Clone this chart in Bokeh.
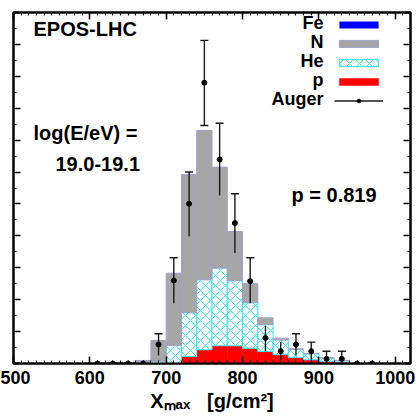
from bokeh.plotting import figure
from bokeh.models import (ColumnDataSource, Range1d, LinearAxis, Label, Legend,
                          LegendItem, Whisker, TeeHead, SingleIntervalTicker,
                          CustomJSTickFormatter)
from bokeh.core.properties import value
from bokeh.transform import stack
from bokeh.embed import file_html
from bokeh.resources import INLINE

# simulated Xmax fractions per 20 g/cm2 bin (bin centres)
bin_centre = [670, 690, 710, 730, 750, 770, 790, 810, 830, 850, 870, 890, 910, 930, 950]
frac_p = [0, 0, 0, 0.0044, 0.0086, 0.0111, 0.0111, 0.0096, 0.0075, 0.0055,
          0.0038, 0.0023, 0.0014, 0.0009, 0.0003]
frac_he = [0, 0.0014, 0.0113, 0.0274, 0.0439, 0.0487, 0.0409, 0.0285, 0.0169,
           0.0093, 0.0050, 0.0038, 0.0021, 0.0009, 0.0003]
frac_n = [0.0019, 0.0130, 0.0453, 0.0867, 0.0936, 0.0633, 0.0307, 0.0119,
          0.0042, 0.0011, 0.0004, 0.0002, 0, 0, 0]
frac_fe = [0] * 15

# Auger data points
auger_x = [610, 630, 650, 670, 690, 710, 730, 750, 770, 790, 810, 830, 850,
           870, 890, 910, 930, 950, 970]
auger_y = [0, 0, 0, 0, 0.0119, 0.0520, 0.1001, 0.1760, 0.1279, 0.0880, 0.0516,
           0.0160, 0.0077, 0.0119, 0.0077, 0.0029, 0.0029, 0, 0]
auger_hi = [0, 0, 0, 0, 0.0186, 0.0663, 0.1200, 0.2025, 0.1506, 0.1064, 0.0663,
            0.0236, 0.0134, 0.0186, 0.0134, 0.0077, 0.0077, 0, 0]
auger_lo = [0, 0, 0, 0, 0.0050, 0.0378, 0.0798, 0.1492, 0.1053, 0.0692, 0.0378,
            0.0077, 0.0023, 0.0050, 0.0023, 0.0, 0.0, 0, 0]

FONT = "Liberation Sans"
GREY = "#a6a6a6"
CYAN = "#30eaf0"

p = figure(
    width=415,
    height=417,
    x_range=Range1d(500, 1020),
    y_range=Range1d(0, 0.22),
    output_backend="svg",
    toolbar_location=None,
    min_border_left=13,
    min_border_right=5,
    min_border_top=12,
    min_border_bottom=54,
)
p.grid.visible = False
p.outline_line_color = "black"
p.outline_line_width = 2
p.background_fill_color = "white"

hist = ColumnDataSource(dict(x=bin_centre, p=frac_p, he=frac_he, n=frac_n, fe=frac_fe))

r_p = p.vbar(x="x", width=20, bottom=0, top=stack("p"), source=hist,
             fill_color="#ff0000", line_color="#ff0000", line_width=0.5)
r_he = p.vbar(x="x", width=20, bottom=stack("p"), top=stack("p", "he"), source=hist,
              fill_color="white", line_color=CYAN, line_width=1,
              hatch_pattern="diagonal_cross", hatch_color=CYAN, hatch_scale=10,
              hatch_weight=1)
r_n = p.vbar(x="x", width=20, bottom=stack("p", "he"), top=stack("p", "he", "n"),
             source=hist, fill_color=GREY, line_color="#a2a2c8", line_width=1)
r_fe = p.vbar(x="x", width=20, bottom=stack("p", "he", "n"),
              top=stack("p", "he", "n", "fe"), source=hist,
              fill_color="#0000ff", line_color="#0000ff", line_alpha=0)

auger = ColumnDataSource(dict(x=auger_x, y=auger_y, lo=auger_lo, hi=auger_hi))
r_stem = p.segment(x0="x", y0="lo", x1="x", y1="hi", source=auger,
                   line_color="#1a1a1a", line_width=1.4)
p.add_layout(Whisker(base="x", lower="lo", upper="hi", source=auger,
                     line_alpha=0,
                     lower_head=TeeHead(size=8, line_width=1.4, line_color="#1a1a1a"),
                     upper_head=TeeHead(size=8, line_width=1.4, line_color="#1a1a1a")))
r_dot = p.scatter(x="x", y="y", source=auger, size=5, color="black")

# axes: ticks on all four sides, pointing inwards
x_ticker = SingleIntervalTicker(interval=100, num_minor_ticks=10)
y_ticker = SingleIntervalTicker(interval=0.02, num_minor_ticks=2)
p.xaxis.ticker = x_ticker
p.yaxis.ticker = y_ticker
p.add_layout(LinearAxis(ticker=x_ticker), "above")
p.add_layout(LinearAxis(ticker=y_ticker), "right")

for ax in p.axis:
    ax.axis_line_width = 2
    ax.axis_line_color = "black"
    ax.major_tick_in = 7
    ax.major_tick_out = 0
    ax.minor_tick_in = 3
    ax.minor_tick_out = 0
    ax.major_tick_line_width = 1.5
    ax.minor_tick_line_width = 1.2
    ax.major_tick_line_color = "black"
    ax.minor_tick_line_color = "black"
    ax.major_label_text_font = FONT
    ax.major_label_text_font_style = "bold"
    ax.major_label_text_color = "black"

xax = p.below[0]
xax.major_label_text_font_size = "18px"
xax.major_label_standoff = 7
xax.axis_label = "X\u2098\u2090\u2093\u00a0\u00a0\u00a0[g/cm\u00b2]"
xax.axis_label_text_font = FONT
xax.axis_label_text_font_style = "bold"
xax.axis_label_text_font_size = "20px"
xax.axis_label_text_color = "black"
xax.axis_label_standoff = 3
for ax in p.left + p.right + p.above:
    ax.formatter = CustomJSTickFormatter(code="return ''")
    ax.major_label_text_font_size = "1px"
    ax.major_label_standoff = 0


def add_text(txt, sx, sy, size, align="left"):
    # sx, sy: screen px from the frame's bottom-left corner
    p.add_layout(Label(x=sx, y=sy, x_units="screen", y_units="screen", text=txt,
                       text_font=FONT, text_font_style="bold", text_font_size=size,
                       text_color="black", text_align=align, text_baseline="middle"))


add_text("EPOS-LHC", 20, 335, "20px")
add_text("log(E/eV) =", 20, 231, "20px")
add_text("19.0-19.1", 42, 200, "20px")
add_text("p = 0.819", 278, 169, "20px")

# legend: keys from the renderers, names on the left of the keys
legend_names = ["Fe", "N", "He", "p", "Auger"]
legend_rends = [[r_fe], [r_n], [r_he], [r_p], [r_stem, r_dot]]
legend = Legend(
    items=[LegendItem(label=value(""), renderers=r) for r in legend_rends],
    location=(321, 258),
    glyph_width=49,
    glyph_height=9,
    spacing=10,
    padding=0,
    margin=0,
    label_width=0,
    label_height=0,
    label_standoff=0,
    label_text_font_size="1px",
    background_fill_alpha=0,
    border_line_alpha=0,
)
p.add_layout(legend)
for i, name in enumerate(legend_names):
    add_text(name, 310, 341 - 19 * i, "18px", align="right")

open("out.html", "w").write(file_html(p, INLINE))
